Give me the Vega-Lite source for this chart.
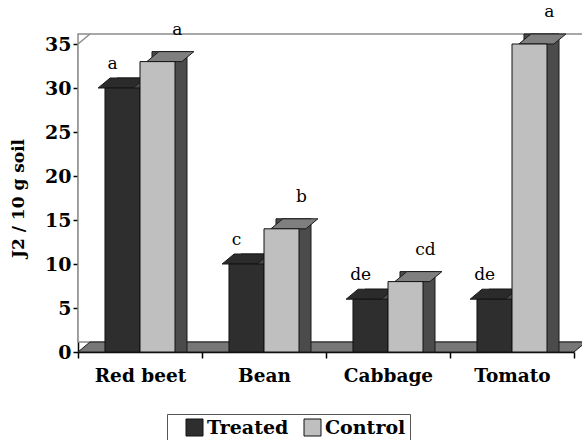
{
  "$schema": "https://vega.github.io/schema/vega-lite/v6.json",
  "width": 496,
  "height": 308,
  "autosize": "none",
  "padding": {"left": 78, "top": 44, "right": 8, "bottom": 88},
  "background": "white",
  "datasets": {
    "bars": [
      {"crop": "Red beet", "series": "Treated", "value": 30, "letter": "a"},
      {"crop": "Red beet", "series": "Control", "value": 33, "letter": "a"},
      {"crop": "Bean", "series": "Treated", "value": 10, "letter": "c"},
      {"crop": "Bean", "series": "Control", "value": 14, "letter": "b"},
      {"crop": "Cabbage", "series": "Treated", "value": 6, "letter": "de"},
      {"crop": "Cabbage", "series": "Control", "value": 8, "letter": "cd"},
      {"crop": "Tomato", "series": "Treated", "value": 6, "letter": "de"},
      {"crop": "Tomato", "series": "Control", "value": 35, "letter": "a"}
    ],
    "frame": [{"base": 0, "top": 35}]
  },
  "resolve": {"scale": {"xOffset": "independent"}},
  "layer": [
    {
      "data": {"name": "frame"},
      "mark": {"type": "rect", "fill": "white", "stroke": "#8c8c8c", "strokeWidth": 1.5, "xOffset": 12, "x2Offset": 12, "yOffset": -10, "y2Offset": -10},
      "encoding": {
        "y": {"field": "base", "type": "quantitative", "scale": {"domain": [0, 35], "nice": false}, "axis": {"title": "J2 / 10 g soil", "values": [0, 5, 10, 15, 20, 25, 30, 35]}},
        "y2": {"field": "top"}
      }
    },
    {
      "data": {"name": "frame"},
      "mark": {"type": "point", "shape": "M -1 0 L -0.9516 -0.0403", "size": 246016, "filled": false, "opacity": 1, "stroke": "#8c8c8c", "strokeWidth": 1.5},
      "encoding": {
        "y": {"field": "top", "type": "quantitative", "axis": {"title": "J2 / 10 g soil", "values": [0, 5, 10, 15, 20, 25, 30, 35]}}
      }
    },
    {
      "data": {"name": "frame"},
      "mark": {"type": "point", "shape": "M -1 0 L 1 0 L 1.0484 -0.0403 L -0.9516 -0.0403 Z", "size": 246016, "filled": true, "opacity": 1, "fill": "#777777", "stroke": "#1a1a1a", "strokeWidth": 1},
      "encoding": {
        "y": {"field": "base", "type": "quantitative", "axis": {"title": "J2 / 10 g soil", "values": [0, 5, 10, 15, 20, 25, 30, 35]}}
      }
    },
    {
      "data": {"name": "bars"},
      "mark": {"type": "bar", "fill": "#4b4b4b", "stroke": "#1a1a1a", "strokeWidth": 1, "yOffset": -10, "y2Offset": -10},
      "encoding": {
        "x": {"field": "crop", "type": "nominal", "sort": ["Red beet", "Bean", "Cabbage", "Tomato"], "scale": {"paddingInner": 0, "paddingOuter": 0}, "axis": {"title": null}},
        "xOffset": {"field": "series", "type": "nominal", "sort": ["Treated", "Control"], "scale": {"paddingInner": 0, "paddingOuter": 0.771, "align": 0.7222}},
        "y": {"field": "value", "type": "quantitative", "stack": null, "axis": {"title": "J2 / 10 g soil", "values": [0, 5, 10, 15, 20, 25, 30, 35]}}
      }
    },
    {
      "data": {"name": "bars"},
      "mark": {"type": "point", "shape": "M -1 0 L -0.314 -0.571 L 1.686 -0.571 L 1 0 Z", "size": 1225, "filled": true, "opacity": 1, "stroke": "#1a1a1a", "strokeWidth": 1},
      "encoding": {
        "x": {"field": "crop", "type": "nominal", "sort": ["Red beet", "Bean", "Cabbage", "Tomato"], "scale": {"paddingInner": 0, "paddingOuter": 0}, "axis": {"title": null}},
        "xOffset": {"field": "series", "type": "nominal", "sort": ["Treated", "Control"], "scale": {"paddingInner": 0, "paddingOuter": 0.771}},
        "y": {"field": "value", "type": "quantitative", "stack": null, "axis": {"title": "J2 / 10 g soil", "values": [0, 5, 10, 15, 20, 25, 30, 35]}},
        "fill": {"condition": {"test": "datum.series === 'Control'", "value": "#7f7f7f"}, "value": "#2b2b2b"}
      }
    },
    {
      "data": {"name": "bars"},
      "mark": {"type": "bar", "stroke": "#111111", "strokeWidth": 1},
      "encoding": {
        "x": {"field": "crop", "type": "nominal", "sort": ["Red beet", "Bean", "Cabbage", "Tomato"], "scale": {"paddingInner": 0, "paddingOuter": 0}, "axis": {"title": null}},
        "xOffset": {"field": "series", "type": "nominal", "sort": ["Treated", "Control"], "scale": {"paddingInner": 0, "paddingOuter": 0.771}},
        "y": {"field": "value", "type": "quantitative", "stack": null, "axis": {"title": "J2 / 10 g soil", "values": [0, 5, 10, 15, 20, 25, 30, 35]}},
        "color": {
          "field": "series", "type": "nominal", "sort": ["Treated", "Control"],
          "scale": {"domain": ["Treated", "Control"], "range": ["#2e2e2e", "#bfbfbf"]},
          "legend": {"title": null, "orient": "none", "legendX": 89, "legendY": 370, "direction": "horizontal"}
        }
      }
    },
    {
      "data": {"name": "bars"},
      "transform": [{"filter": "datum.series === 'Treated'"}],
      "mark": {"type": "text", "font": "DejaVu Serif", "fontSize": 17, "color": "black", "dx": -3, "dy": -24},
      "encoding": {
        "x": {"field": "crop", "type": "nominal", "sort": ["Red beet", "Bean", "Cabbage", "Tomato"], "axis": {"title": null}},
        "xOffset": {"field": "series", "type": "nominal", "sort": ["Treated", "Control"], "scale": {"domain": ["Treated", "Control"], "paddingInner": 0, "paddingOuter": 0.771}},
        "y": {"field": "value", "type": "quantitative", "axis": {"title": "J2 / 10 g soil", "values": [0, 5, 10, 15, 20, 25, 30, 35]}},
        "text": {"field": "letter"}
      }
    },
    {
      "data": {"name": "bars"},
      "transform": [{"filter": "datum.series === 'Control'"}],
      "mark": {"type": "text", "font": "DejaVu Serif", "fontSize": 17, "color": "black", "dx": 13, "dy": -32},
      "encoding": {
        "x": {"field": "crop", "type": "nominal", "sort": ["Red beet", "Bean", "Cabbage", "Tomato"], "axis": {"title": null}},
        "xOffset": {"field": "series", "type": "nominal", "sort": ["Treated", "Control"], "scale": {"domain": ["Treated", "Control"], "paddingInner": 0, "paddingOuter": 0.771}},
        "y": {"field": "value", "type": "quantitative", "axis": {"title": "J2 / 10 g soil", "values": [0, 5, 10, 15, 20, 25, 30, 35]}},
        "text": {"field": "letter"}
      }
    }
  ],
  "config": {
    "view": {"stroke": null},
    "font": "DejaVu Serif",
    "axis": {
      "grid": false,
      "domainColor": "black",
      "domainWidth": 1.5,
      "tickColor": "black",
      "tickWidth": 1.5,
      "labelColor": "black",
      "labelFont": "DejaVu Serif",
      "labelFontWeight": "bold",
      "titleFont": "DejaVu Serif",
      "titleFontWeight": "bold",
      "titleColor": "black"
    },
    "axisX": {"labelFontSize": 18.5, "labelAngle": 0, "tickBand": "extent", "tickSize": 6, "labelPadding": 8},
    "axisY": {"labelFontSize": 19, "tickSize": 5, "labelPadding": 2, "titleFontSize": 17, "titlePadding": 17},
    "legend": {
      "symbolType": "square",
      "symbolSize": 289,
      "symbolStrokeColor": "#111111",
      "symbolStrokeWidth": 1,
      "symbolOpacity": 1,
      "labelFont": "DejaVu Serif",
      "labelFontWeight": "bold",
      "labelFontSize": 19,
      "labelColor": "black",
      "labelOffset": 3,
      "strokeColor": "#555555",
      "padding": 4,
      "symbolOffset": 14,
      "columnPadding": 0
    }
  }
}
